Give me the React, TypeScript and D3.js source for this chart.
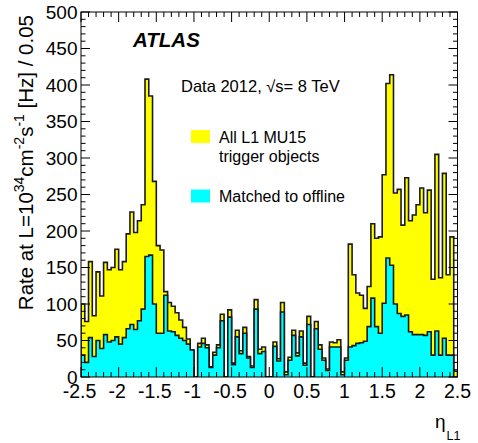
import React from 'react';
import * as d3 from 'd3';

// η_L1 bins: 100 bins of width 0.05 from -2.5 to 2.5
const etaMin = -2.5;
const binWidth = 0.05;

// All L1 MU15 trigger objects (yellow)
const allL1 = [
  100, 76, 158, 84, 144, 111, 157, 147, 150, 175, 147, 158, 196, 226, 198, 214, 236,
  408, 385, 268, 180, 174, 117, 102, 97, 88, 78, 68, 52, 37,
  0, 46, 53, 44, 14, 34, 44, 86, 0, 92,
  19, 64, 36, 68, 28, 15, 106, 38, 41, 0,
  0, 48, 25, 102, 7, 27, 64, 33, 63, 19,
  83, 0, 76, 44, 26, 11, 48, 47, 51, 7,
  26, 182, 140, 115, 112, 94, 124, 210, 190, 192,
  277, 402, 414, 252, 257, 208, 273, 214, 222, 236,
  259, 225, 256, 134, 305, 136, 279, 140, 192, 8,
];

// Matched to offline (cyan)
const matched = [
  30, 20, 54, 28, 50, 39, 58, 48, 50, 55, 45, 54, 66, 72, 65, 77, 93,
  165, 167, 100, 60, 60, 112, 63, 62, 57, 53, 50, 45, 37,
  0, 41, 46, 40, 13, 30, 40, 77, 0, 82,
  17, 55, 32, 60, 26, 13, 93, 32, 35, 0,
  0, 42, 22, 89, 3, 23, 57, 29, 55, 16,
  72, 0, 66, 38, 23, 9, 41, 41, 41, 3,
  23, 41, 43, 46, 47, 49, 69, 108, 69, 60,
  101, 163, 153, 100, 87, 83, 85, 62, 58, 58,
  58, 57, 62, 30, 63, 30, 53, 30, 30, 0,
];

const xTickValues = [-2.5, -2, -1.5, -1, -0.5, 0, 0.5, 1, 1.5, 2, 2.5];
const xTickLabels = ['-2.5', '-2', '-1.5', '-1', '-0.5', '0', '0.5', '1', '1.5', '2', '2.5'];
const yTickValues = [0, 50, 100, 150, 200, 250, 300, 350, 400, 450, 500];
const yTickLabels = ['0', '50', '100', '150', '200', '250', '300', '350', '400', '450', '500'];

const W = 478;
const H = 443;
const L = 81;
const R = 457.5;
const T = 12;
const B = 377;
const FONT = 'Liberation Sans, Arial, Helvetica, sans-serif';

export default function App() {
  const x = d3.scaleLinear().domain([-2.5, 2.5]).range([L, R]);
  const y = d3.scaleLinear().domain([0, 500]).range([B, T]);

  type P = { e: number; v: number };
  const toPts = (vals: number[]): P[] => {
    const pts: P[] = [{ e: etaMin, v: 0 }];
    vals.forEach((v, i) => pts.push({ e: etaMin + i * binWidth, v }));
    pts.push({ e: etaMin + vals.length * binWidth, v: vals[vals.length - 1] });
    pts.push({ e: etaMin + vals.length * binWidth, v: 0 });
    return pts;
  };

  const area = d3
    .area<P>()
    .x((d) => x(d.e))
    .y0(y(0))
    .y1((d) => y(d.v))
    .curve(d3.curveStepAfter);
  const line = d3
    .line<P>()
    .x((d) => x(d.e))
    .y((d) => y(d.v))
    .curve(d3.curveStepAfter);

  const allPts = toPts(allL1);
  const mPts = toPts(matched);

  const xMinor = d3.range(-25, 26).map((i) => i / 10);
  const yMinor = d3.range(0, 51).map((i) => i * 10);

  return (
    <svg
      width={W}
      height={H}
      viewBox={`0 0 ${W} ${H}`}
      style={{ position: 'absolute', left: 0, top: 0, background: '#fff' }}
      fontFamily={FONT}
    >
      <rect x={0} y={0} width={W} height={H} fill="#fff" />
      <defs>
        <clipPath id="plotclip">
          <rect x={L} y={T} width={R - L} height={B - T} />
        </clipPath>
      </defs>
      <g clipPath="url(#plotclip)">
        <path d={area(allPts) || ''} fill="#ffff00" />
        <path d={line(allPts) || ''} fill="none" stroke="#1a1a1a" strokeWidth={1.6} />
        <path d={area(mPts) || ''} fill="#00ffff" />
        <path d={line(mPts) || ''} fill="none" stroke="#1a1a1a" strokeWidth={1.6} />
      </g>

      {/* frame */}
      <rect x={L} y={T} width={R - L} height={B - T} fill="none" stroke="#000" strokeWidth={1} />

      {/* x ticks bottom & top */}
      {xMinor.map((v, i) => {
        const major = Math.abs(v * 2 - Math.round(v * 2)) < 1e-6;
        const len = major ? 10 : 5;
        return (
          <g key={'xt' + i} stroke="#000" strokeWidth={1}>
            <line x1={x(v)} x2={x(v)} y1={B} y2={B - len} />
            <line x1={x(v)} x2={x(v)} y1={T} y2={T + len} />
          </g>
        );
      })}
      {/* y ticks left & right */}
      {yMinor.map((v, i) => {
        const major = v % 50 === 0;
        const len = major ? 9 : 4.5;
        return (
          <g key={'yt' + i} stroke="#000" strokeWidth={1}>
            <line x1={L} x2={L + len} y1={y(v)} y2={y(v)} />
            <line x1={R} x2={R - len} y1={y(v)} y2={y(v)} />
          </g>
        );
      })}

      {/* x tick labels */}
      {xTickValues.map((v, i) => (
        <text key={'xl' + i} x={x(v) - (v < 0 ? 1.5 : 0)} y={398} fontSize={19.5} textAnchor="middle" fill="#000">
          {xTickLabels[i]}
        </text>
      ))}
      {/* y tick labels */}
      {yTickValues.map((v, i) => (
        <text key={'yl' + i} x={77.5} y={y(v) + 6.5} fontSize={19} textAnchor="end" fill="#000">
          {yTickLabels[i]}
        </text>
      ))}

      {/* x axis title */}
      <text x={445.5} y={428} fontSize={19} textAnchor="end" fill="#000">
        η
      </text>
      <text x={446.5} y={440} fontSize={12.5} textAnchor="start" fill="#000">
        L1
      </text>

      {/* y axis title */}
      <text
        transform="translate(32.5,15) rotate(-90)"
        fontSize={20.5}
        textAnchor="end"
        fill="#000"
      >
        Rate at L=10
        <tspan dy={-8.5} fontSize={14}>34</tspan>
        <tspan dy={8.5}>cm</tspan>
        <tspan dy={-8.5} fontSize={14}>-2</tspan>
        <tspan dy={8.5}>s</tspan>
        <tspan dy={-8.5} fontSize={14}>-1</tspan>
        <tspan dy={8.5}> [Hz] / 0.05</tspan>
      </text>

      {/* ATLAS label */}
      <text x={133} y={47} fontSize={20.5} fontWeight="bold" fontStyle="italic" fill="#000">
        ATLAS
      </text>
      <text x={181} y={91.5} fontSize={16.5} fill="#000">
        Data 2012, √s= 8 TeV
      </text>

      {/* legend */}
      <rect x={191} y={130} width={19} height={13} fill="#ffff00" />
      <text x={219} y={142.5} fontSize={16} fill="#000">
        All L1 MU15
      </text>
      <text x={219} y={161.7} fontSize={16} fill="#000">
        trigger objects
      </text>
      <rect x={191} y={189.5} width={19} height={13} fill="#00ffff" />
      <text x={219} y={201.7} fontSize={16} fill="#000">
        Matched to offline
      </text>
    </svg>
  );
}
